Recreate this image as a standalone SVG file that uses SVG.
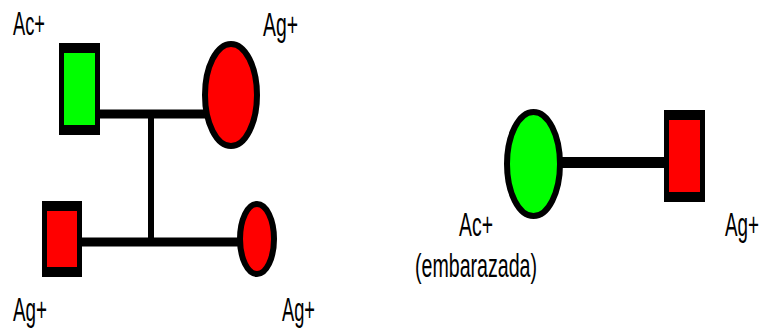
<svg xmlns="http://www.w3.org/2000/svg" width="762" height="333" viewBox="0 0 762 333">
<style>
text{font-family:"Liberation Sans",Arial,sans-serif;font-size:33px;fill:#000}
.b{fill:#000}
.g{fill:#00ff00}
.r{fill:#ff0000}
.e{stroke:#000;stroke-width:6}
.l{stroke:#000;fill:none}
</style>
<rect width="762" height="333" fill="#fff"/>
<g id="connectors">
<line class="l" x1="98" y1="114" x2="206" y2="114" stroke-width="9"/>
<line class="l" x1="151" y1="114" x2="151" y2="246" stroke-width="6"/>
<line class="l" x1="80" y1="242" x2="240" y2="242" stroke-width="9"/>
<line class="l" x1="560" y1="162.5" x2="667" y2="162.5" stroke-width="11"/>
</g>
<g id="father1">
<rect class="b" x="59" y="43" width="41" height="92"/>
<rect class="g" x="64" y="53" width="31" height="72"/>
<text x="13" y="35" textLength="32" lengthAdjust="spacingAndGlyphs">Ac+</text>
</g>
<g id="mother1">
<ellipse class="r e" cx="231" cy="95" rx="26" ry="51"/>
<text x="263" y="36" textLength="35" lengthAdjust="spacingAndGlyphs">Ag+</text>
</g>
<g id="son">
<rect class="b" x="42" y="201" width="40" height="76"/>
<rect class="r" x="47" y="211" width="30" height="56"/>
<text x="13" y="321" textLength="34" lengthAdjust="spacingAndGlyphs">Ag+</text>
</g>
<g id="daughter">
<ellipse class="r e" cx="257" cy="239" rx="17" ry="35"/>
<text x="282" y="321" textLength="33" lengthAdjust="spacingAndGlyphs">Ag+</text>
</g>
<g id="mother2">
<ellipse class="g e" cx="533.5" cy="164" rx="26.5" ry="52"/>
<text x="459" y="236" textLength="34" lengthAdjust="spacingAndGlyphs">Ac+</text>
<text x="415" y="277" textLength="122" lengthAdjust="spacingAndGlyphs">(embarazada)</text>
</g>
<g id="father2">
<rect class="b" x="664" y="110" width="41" height="92"/>
<rect class="r" x="669" y="120" width="31" height="72"/>
<text transform="translate(725,236) scale(0.57,1)" x="0" y="0">Ag+</text>
</g>
</svg>
